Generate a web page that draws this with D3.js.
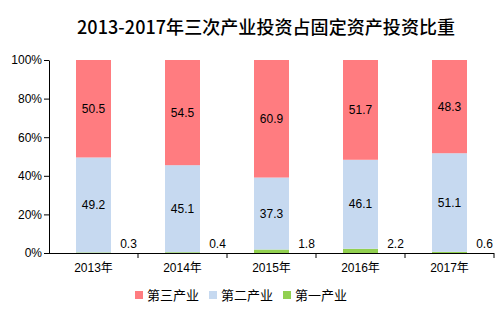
<!DOCTYPE html>
<html><head><meta charset="utf-8">
<script src="https://cdn.jsdelivr.net/npm/d3@7"></script>
<style>body{margin:0;background:#fff}svg{display:block}</style>
</head><body>
<script>
const years = ["2013年","2014年","2015年","2016年","2017年"];
const tertiary = [50.5,54.5,60.9,51.7,48.3];
const secondary = [49.2,45.1,37.3,46.1,51.1];
const primary = [0.3,0.4,1.8,2.2,0.6];
const yTicks = [0,20,40,60,80,100];
const seriesNames = ["第三产业","第二产业","第一产业"];
const colors = {"第一产业":"#92D050","第二产业":"#C6D9F0","第三产业":"#FF7C80"};

const W=500,H=324;
const svg=d3.select("body").append("svg").attr("width",W).attr("height",H);
const font="Arial, 'Liberation Sans', 'Noto Sans CJK SC', sans-serif";

svg.append("text").attr("x",266).attr("y",34).attr("text-anchor","middle")
  .attr("font-family","'Noto Sans CJK SC', sans-serif").attr("font-size",18).attr("font-weight",500)
  .attr("textLength",378).attr("lengthAdjust","spacing")
  .attr("fill","#000").text("2013-2017年三次产业投资占固定资产投资比重");

const x=d3.scaleBand().domain(years).range([49,494]).paddingInner(0).paddingOuter(0);
const y=d3.scaleLinear().domain([0,100]).range([253,60]);
const barW=35;

const rows=years.map((yr,i)=>({year:yr,"第一产业":primary[i],"第二产业":secondary[i],"第三产业":tertiary[i]}));
const stack=d3.stack().keys(["第一产业","第二产业","第三产业"]);
const layers=stack(rows);

layers.forEach(layer=>{
  svg.append("g").selectAll("rect").data(layer).join("rect")
    .attr("x",d=>x(d.data.year)+x.bandwidth()/2-barW/2)
    .attr("width",barW)
    .attr("y",d=>y(d[1]))
    .attr("height",d=>y(d[0])-y(d[1]))
    .attr("fill",colors[layer.key]);
});

// labels
layers.forEach(layer=>{
  const g=svg.append("g").attr("font-family",font).attr("font-size",12).attr("fill","#000");
  if(layer.key==="第一产业"){
    g.selectAll("text").data(layer).join("text")
      .attr("x",d=>x(d.data.year)+x.bandwidth()/2+35)
      .attr("y",248).attr("text-anchor","middle")
      .text(d=>d.data[layer.key]);
  } else {
    g.selectAll("text").data(layer).join("text")
      .attr("x",d=>x(d.data.year)+x.bandwidth()/2)
      .attr("y",d=>(y(d[0])+y(d[1]))/2+4).attr("text-anchor","middle")
      .text(d=>d.data[layer.key]);
  }
});

// y axis
const ya=svg.append("g").attr("transform","translate(49,0)")
  .call(d3.axisLeft(y).tickValues(yTicks).tickFormat(d=>d+"%").tickSize(5).tickSizeOuter(0));
ya.select(".domain").attr("stroke","#000");
ya.selectAll(".tick line").attr("stroke","#000");
ya.selectAll("text").attr("font-family",font).attr("font-size",12).attr("fill","#000").attr("x",-7);

// x axis
const xa=svg.append("g").attr("transform","translate(0,253)")
  .call(d3.axisBottom(x).tickSize(0).tickSizeOuter(0));
xa.select(".domain").attr("stroke","#000").attr("d","M44,0.5H494");
xa.selectAll("text").attr("font-family",font).attr("font-size",12).attr("fill","#000").attr("dy","1.05em").attr("y",6);
svg.append("g").selectAll("line").data(years).join("line")
  .attr("x1",d=>x(d)+x.bandwidth()).attr("x2",d=>x(d)+x.bandwidth())
  .attr("y1",253).attr("y2",258).attr("stroke","#000");

// legend
const leg=svg.append("g").attr("font-family","'Noto Sans CJK SC', sans-serif").attr("font-size",13);
const legX=[135,209,283];
seriesNames.forEach((n,i)=>{
  leg.append("rect").attr("x",legX[i]).attr("y",291).attr("width",8).attr("height",8).attr("fill",colors[n]);
  leg.append("text").attr("x",legX[i]+12).attr("y",300).attr("fill","#000").text(n);
});
</script>
</body></html>
